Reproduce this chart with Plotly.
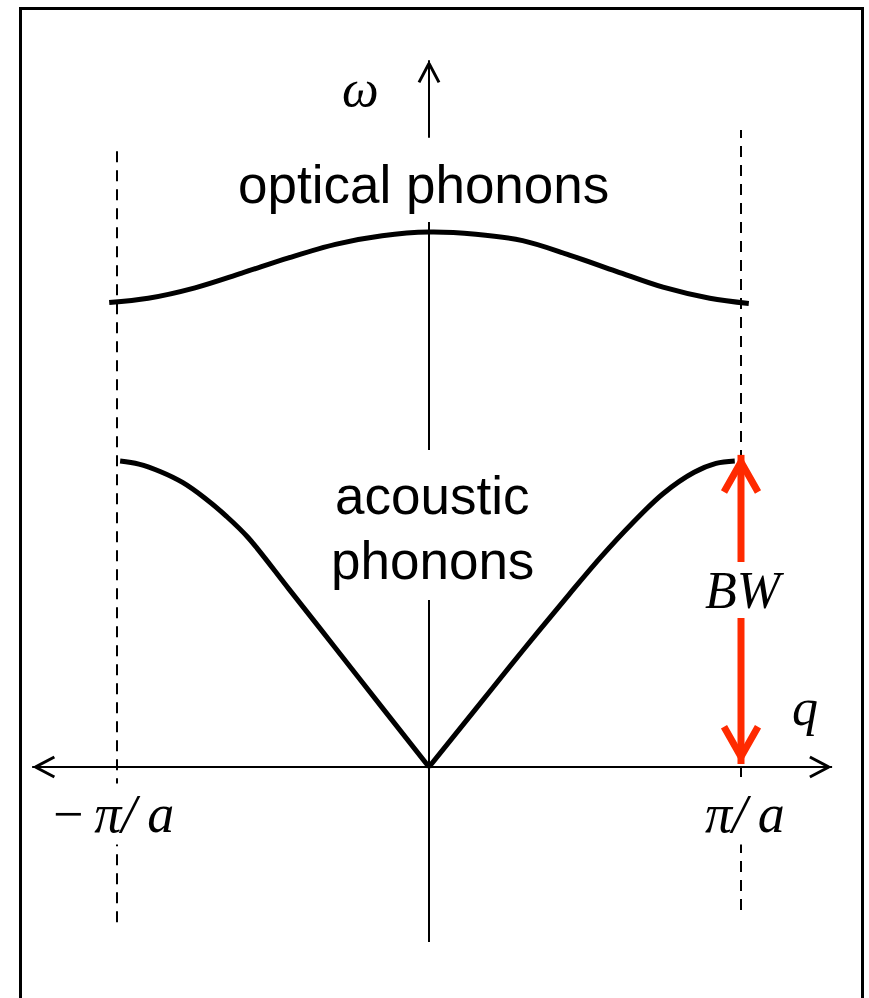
import math
import plotly.graph_objects as go

# Phonon dispersion of a diatomic chain, q in units of pi/a, omega in arbitrary units
optical_q = [-1.025, -0.9, -0.75, -0.6, -0.45, -0.3, -0.15, 0.0, 0.15, 0.3, 0.45, 0.6, 0.75, 0.9, 1.025]
optical_w = [1.518, 1.532, 1.566, 1.614, 1.664, 1.708, 1.736, 1.748, 1.741, 1.720, 1.673, 1.620, 1.568, 1.532, 1.515]

acoustic_left_q = [-0.99, -0.93, -0.86, -0.79, -0.72, -0.65, -0.58, -0.45, -0.30, -0.15, 0.0]
acoustic_left_w = [1.0, 0.99, 0.965, 0.93, 0.88, 0.82, 0.75, 0.583, 0.389, 0.194, 0.0]
acoustic_right_q = [0.0, 0.15, 0.30, 0.45, 0.55, 0.65, 0.75, 0.85, 0.92, 0.98]
acoustic_right_w = [0.0, 0.19, 0.38, 0.565, 0.685, 0.795, 0.893, 0.963, 0.992, 1.0]

zone_edges = [-1.0, 1.0]
edge_labels = ["\u2212\u2009<i>\u03c0/\u2009a</i>", "<i>\u03c0/\u2009a</i>"]
bandwidth = max(acoustic_right_w)

SANS = "Liberation Sans, Arial, sans-serif"
SERIF = "Liberation Serif, Times New Roman, serif"
RED = "#ff2a00"

# pixels per data unit along each axis (plot area fills the whole page)
W, H = 869, 998
X_RANGE = [-429 / 312, 440 / 312]
Y_RANGE = [-231 / 306, 767 / 306]
SX = W / (X_RANGE[1] - X_RANGE[0])
SY = H / (Y_RANGE[1] - Y_RANGE[0])

fig = go.Figure()

curve = dict(color="black", width=5)
for xs, ys in [(optical_q, optical_w), (acoustic_left_q, acoustic_left_w),
               (acoustic_right_q, acoustic_right_w)]:
    fig.add_trace(go.Scatter(x=xs, y=ys, mode="lines", hoverinfo="skip",
                             line=dict(shape="spline", smoothing=1.0, **curve)))


def arrow(tail, tip, color, shaft_w, head_w, head_len, head_half, both=False):
    """Shaft plus open chevron head(s); head sizes are in pixels."""
    dx = (tip[0] - tail[0]) * SX
    dy = (tip[1] - tail[1]) * SY
    n = math.hypot(dx, dy)
    ux, uy = dx / n, dy / n
    # pull the chevron back so the mitred point lands on the tip
    half_angle = math.atan2(head_half, head_len)
    pull = head_w / 2 / math.sin(half_angle)

    def head(pt, sx, sy):
        px, py = pt[0] * SX - sx * pull, pt[1] * SY - sy * pull
        bx, by = px - sx * head_len, py - sy * head_len
        ax_, ay_ = bx - sy * head_half, by + sx * head_half
        cx_, cy_ = bx + sy * head_half, by - sx * head_half
        return [ax_ / SX, px / SX, cx_ / SX], [ay_ / SY, py / SY, cy_ / SY]

    fig.add_trace(go.Scatter(x=[tail[0], tip[0]], y=[tail[1], tip[1]], mode="lines",
                             hoverinfo="skip", line=dict(color=color, width=shaft_w)))
    hx, hy = head(tip, ux, uy)
    if both:
        tx, ty = head(tail, -ux, -uy)
        hx, hy = hx + [None] + tx, hy + [None] + ty
    fig.add_trace(go.Scatter(x=hx, y=hy, mode="lines", hoverinfo="skip",
                             line=dict(color=color, width=head_w)))


# q axis, arrows at both ends
arrow((-1.272, 0.0), (1.292, 0.0), "black", 2, 3, 19, 10, both=True)
# omega axis arrow
arrow((0.0, 2.056), (0.0, 2.31), "black", 2, 3, 19, 10)
# bandwidth arrow, split around its label
arrow((1.0, 0.67), (1.0, bandwidth + 0.02), RED, 7, 7, 30, 17)
arrow((1.0, 0.487), (1.0, 0.01), RED, 7, 7, 30, 17)

shapes = []
dashed = dict(color="black", width=2, dash="11px,8px")
# Brillouin zone boundaries (the right one is interrupted by the bandwidth arrow)
zone_segments = [(zone_edges[0], -0.507, 2.023),
                 (zone_edges[1], bandwidth, 2.082),
                 (zone_edges[1], -0.467, 0.0)]
for q0, y0, y1 in zone_segments:
    shapes.append(dict(type="line", xref="x", yref="y", x0=q0, x1=q0, y0=y0, y1=y1,
                       layer="below", line=dashed))
# omega axis, interrupted by the labels
for y0, y1 in [(1.781, 1.036), (0.546, -0.572)]:
    shapes.append(dict(type="line", xref="x", yref="y", x0=0, x1=0, y0=y0, y1=y1,
                       layer="below", line=dict(color="black", width=2)))
# frame
shapes.append(dict(type="rect", xref="paper", yref="paper",
                   x0=20.5 / W, x1=862.5 / W, y0=-0.05, y1=1 - 8.5 / H,
                   line=dict(color="black", width=3), fillcolor="rgba(0,0,0,0)"))

annotations = []


def label(text, x, y, family, size=52, bg=None):
    annotations.append(dict(x=x, y=y, xref="x", yref="y", text=text, showarrow=False,
                            xanchor="center", yanchor="middle", borderpad=0,
                            bgcolor=bg if bg else "rgba(0,0,0,0)",
                            font=dict(family=family, size=size, color="black")))


label("optical phonons", -0.019, 1.905, SANS, 53)
label("acoustic", 0.008, 0.886, SANS, 53)
label("phonons", 0.012, 0.676, SANS, 53)
label("<i>\u03c9</i>", -0.221, 2.218, SERIF)
label("<i>q</i>", 1.205, 0.195, SERIF)
label("<i>BW</i>", 1.013, 0.577, SERIF)
label(edge_labels[0], -1.01, -0.153, SERIF, 54, bg="white")
label(edge_labels[1], 1.013, -0.153, SERIF, 54, bg="white")

fig.update_layout(
    width=W, height=H,
    margin=dict(l=0, r=0, t=0, b=0),
    paper_bgcolor="white", plot_bgcolor="white",
    showlegend=False,
    xaxis=dict(range=X_RANGE, visible=False, fixedrange=True),
    yaxis=dict(range=Y_RANGE, visible=False, fixedrange=True),
    shapes=shapes,
    annotations=annotations,
)

fig.write_html("out.html")
